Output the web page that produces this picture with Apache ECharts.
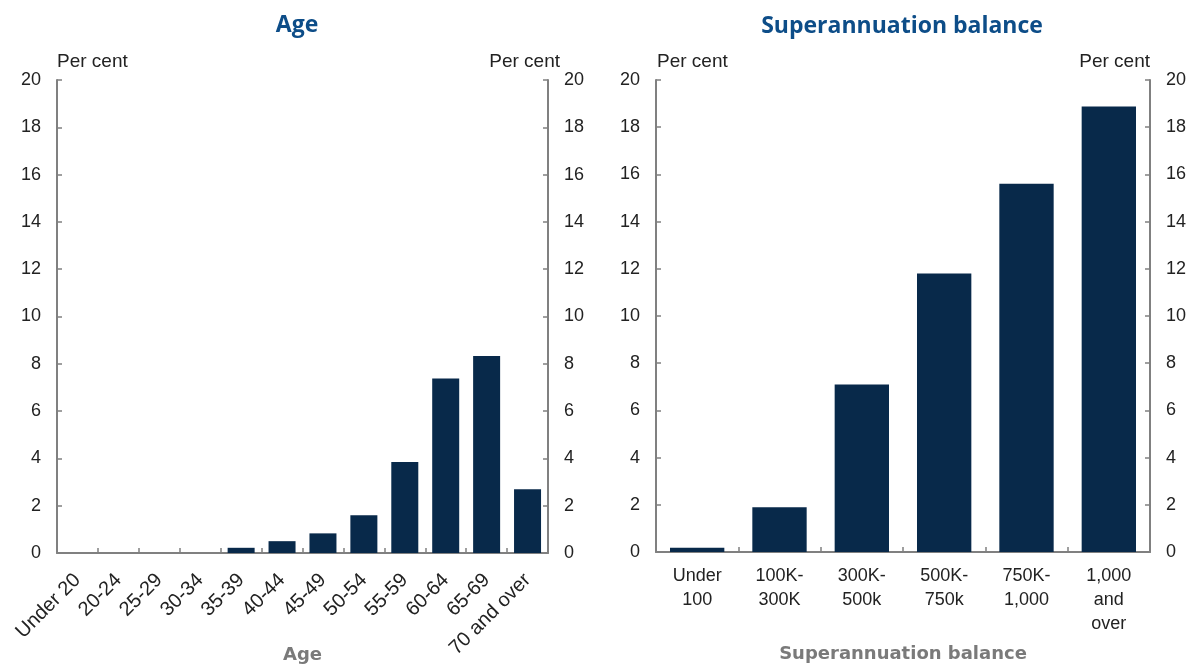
<!DOCTYPE html>
<html>
<head>
  <meta charset="UTF-8">
  <title>Age and superannuation balance</title>
  <script src="https://cdn.jsdelivr.net/npm/echarts@6/dist/echarts.min.js"></script>
  <style>
    html, body { margin: 0; padding: 0; background: #fff; }
    #chart { width: 1198px; height: 668px; }
  </style>
</head>
<body>
  <div id="chart"></div>
  <script>
    // data (per cent)
    const ageCats = ['Under 20', '20-24', '25-29', '30-34', '35-39', '40-44', '45-49', '50-54', '55-59', '60-64', '65-69', '70 and over'];
    const ageVals = [0, 0, 0, 0, 0.22, 0.5, 0.83, 1.6, 3.85, 7.38, 8.33, 2.7];
    const balCats = ['Under\n100', '100K-\n300K', '300K-\n500k', '500K-\n750k', '750K-\n1,000', '1,000\nand\nover'];
    const balVals = [0.18, 1.9, 7.1, 11.8, 15.6, 18.88];
    const yTicks = { min: 0, max: 20, interval: 2 };

    const chart = echarts.init(document.getElementById('chart'));

    const axisGrey = '#808080';
    const barColor = '#08294a';
    const font = 'Liberation Sans, Arial, sans-serif';

    function yAxis(grid, side) {
      return {
        type: 'value', gridIndex: grid, position: side,
        min: yTicks.min, max: yTicks.max, interval: yTicks.interval,
        axisLine: { show: true, lineStyle: { color: axisGrey, width: 2 } },
        axisTick: { show: true, inside: true, length: 5, lineStyle: { color: axisGrey, width: 1.5 } },
        splitLine: { show: false },
        axisLabel: { color: '#222', fontSize: 18, fontFamily: font, margin: 16 }
      };
    }

    function xAxis(grid, cats, name, label) {
      return {
        type: 'category', gridIndex: grid, data: cats,
        axisLine: { lineStyle: { color: axisGrey, width: 2 } },
        axisTick: { show: true, inside: true, length: 5, lineStyle: { color: axisGrey, width: 1.5 } },
        axisLabel: Object.assign({ color: '#222', fontFamily: font, interval: 0 }, label),
        name: name, nameLocation: 'middle', nameGap: 93, nameMoveOverlap: false,
        nameTextStyle: { color: '#7a7a7a', fontWeight: 'bold', fontSize: 18, fontFamily: 'DejaVu Sans' }
      };
    }

    function text(x, y, str, align, style) {
      return {
        type: 'text', x: x, y: y,
        style: Object.assign({ text: str, align: align, verticalAlign: 'middle', fill: '#222', font: '19px ' + font }, style)
      };
    }

    const titleStyle = { fill: '#0d4d88', font: 'bold 23px "Open Sans"' };

    const option = {
      animation: false,
      grid: [
        { left: 57, right: 650, top: 80, bottom: 115, outerBoundsMode: 'none', containLabel: false },
        { left: 656, right: 48, top: 80, bottom: 116, outerBoundsMode: 'none', containLabel: false }
      ],
      xAxis: [
        xAxis(0, ageCats, 'Age', { rotate: 45, fontSize: 20, margin: 24 }),
        xAxis(1, balCats, 'Superannuation balance', { fontSize: 18, lineHeight: 24, margin: 12 })
      ],
      yAxis: [yAxis(0, 'left'), yAxis(0, 'right'), yAxis(1, 'left'), yAxis(1, 'right')],
      series: [
        { type: 'bar', xAxisIndex: 0, yAxisIndex: 0, data: ageVals, barCategoryGap: '34%', itemStyle: { color: barColor } },
        { type: 'bar', xAxisIndex: 1, yAxisIndex: 2, data: balVals, barCategoryGap: '34%', itemStyle: { color: barColor } }
      ],
      graphic: [
        text(297, 25, 'Age', 'center', titleStyle),
        text(902, 26, 'Superannuation balance', 'center', titleStyle),
        text(57, 62, 'Per cent', 'left'),
        text(560, 62, 'Per cent', 'right'),
        text(657, 62, 'Per cent', 'left'),
        text(1150, 62, 'Per cent', 'right')
      ]
    };

    chart.setOption(option);
  </script>
</body>
</html>
